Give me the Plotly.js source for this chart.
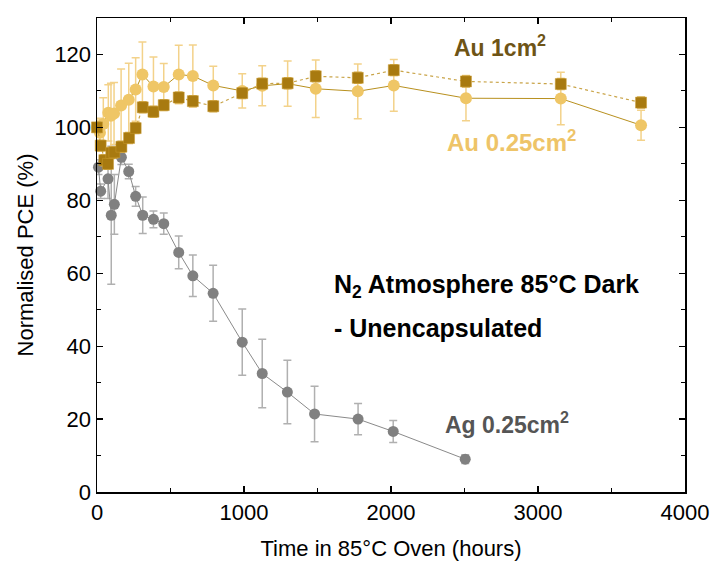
<!DOCTYPE html>
<html>
<head>
<meta charset="utf-8">
<script src="https://cdn.plot.ly/plotly-3.0.1.min.js"></script>
<style>html,body{margin:0;padding:0;background:#fff;}#chart{width:713px;height:565px;}</style>
</head>
<body>
<div id="chart"></div>
<script>
// Ag 0.25 cm2
const agTime = [10, 25, 75, 97, 118, 166, 216, 263, 311, 384, 454, 556, 652, 790, 988, 1124, 1295, 1480, 1776, 2015, 2505];
const agPCE  = [89.1, 82.5, 85.9, 75.9, 78.9, 91.8, 87.9, 81.1, 75.9, 74.8, 73.6, 65.7, 59.3, 54.5, 41.1, 32.5, 27.4, 21.4, 20.0, 16.6, 9.0];
const agErr  = [2, 2, 5.4, 18.9, 8.2, 2, 2, 2.7, 5, 2.3, 2.9, 4.5, 5.7, 7.7, 9.1, 9.4, 8.7, 7.6, 4.3, 3, 1.2];

// Au 0.25 cm2
const au25Time = [0, 20, 43, 77, 95, 116, 164, 216, 263, 309, 384, 454, 556, 652, 791, 988, 1124, 1297, 1488, 1774, 2019, 2510, 3155, 3701];
const au25PCE  = [100, 98.5, 100.9, 104.0, 103.2, 103.8, 106.0, 107.6, 110.4, 114.5, 111.2, 111.1, 114.5, 114.1, 111.5, 110.0, 111.4, 112.0, 110.6, 109.9, 111.5, 108.0, 107.9, 100.6];
const au25Err  = [2, 4, 7.2, 7.7, 8.9, 8.5, 10, 10, 8.7, 8.9, 8.1, 6.4, 8, 8.5, 5.3, 4.7, 5.5, 6.2, 7.9, 7.5, 7.1, 6.2, 7.2, 4.1];

// Au 1 cm2
const au1Time = [0, 25, 50, 75, 97, 118, 166, 218, 263, 311, 384, 454, 556, 652, 791, 988, 1124, 1297, 1488, 1774, 2019, 2510, 3155, 3701];
const au1PCE  = [100, 95, 91, 90, 93, 93.2, 94.7, 97.1, 99.8, 105.5, 104.3, 106.1, 108.2, 107.2, 105.8, 109.4, 112.0, 112.1, 114.0, 113.6, 115.7, 112.6, 111.9, 106.8];
const au1Err  = [1.5, 1.5, 1.5, 1.5, 1.5, 1.5, 1.5, 1.5, 1.5, 1.5, 1.5, 1.5, 1.5, 1.5, 1.5, 1.5, 1.5, 1.5, 1.5, 1.5, 1.5, 1.5, 1.5, 1.5];

const xTicks = [0, 1000, 2000, 3000, 4000];
const yTicks = [0, 20, 40, 60, 80, 100, 120];

const traces = [
  {
    x: agTime, y: agPCE, type: 'scatter', mode: 'lines+markers', name: 'Ag 0.25cm2',
    line: {color: '#8a8a8a', width: 1},
    marker: {symbol: 'circle', size: 11, color: '#808080'},
    error_y: {type: 'data', array: agErr, visible: true, color: '#b0b0b0', thickness: 1.5, width: 4},
    cliponaxis: false
  },
  {
    x: au25Time, y: au25PCE, type: 'scatter', mode: 'lines+markers', name: 'Au 0.25cm2',
    line: {color: '#B8901E', width: 1},
    marker: {symbol: 'circle', size: 12, color: '#EFC666'},
    error_y: {type: 'data', array: au25Err, visible: true, color: '#F3D28A', thickness: 1.5, width: 4},
    cliponaxis: false
  },
  {
    x: au1Time, y: au1PCE, type: 'scatter', mode: 'lines+markers', name: 'Au 1cm2',
    line: {color: '#C9A448', width: 1.2, dash: 'dot'},
    marker: {symbol: 'square', size: 11, color: '#A87A10', line: {color: '#C99A30', width: 0.5}},
    error_y: {type: 'data', array: au1Err, visible: true, color: '#D9B45A', thickness: 1.5, width: 4},
    cliponaxis: false
  }
];

const fam = 'Liberation Sans, Arial, sans-serif';

const layout = {
  width: 713, height: 565,
  margin: {l: 97, r: 28, t: 18, b: 73},
  paper_bgcolor: '#fff', plot_bgcolor: '#fff',
  showlegend: false,
  font: {family: fam, size: 22, color: '#000'},
  xaxis: {
    range: [0, 4000], tickvals: xTicks, ticktext: xTicks.map(String),
    ticks: 'inside', ticklen: 6, tickwidth: 1.2, tickcolor: '#000',
    minor: {dtick: 500, ticks: 'inside', ticklen: 4, tickwidth: 1, tickcolor: '#000'},
    showline: true, linecolor: '#000', linewidth: 1.5, mirror: 'ticks',
    showgrid: false, zeroline: false,
    tickfont: {family: fam, size: 22, color: '#000'},
    title: {text: 'Time in 85°C Oven (hours)', font: {family: fam, size: 22, color: '#000'}, standoff: 16}
  },
  yaxis: {
    range: [0, 130], tickvals: yTicks, ticktext: yTicks.map(String),
    ticks: 'inside', ticklen: 6, tickwidth: 1.2, tickcolor: '#000',
    minor: {dtick: 10, ticks: 'inside', ticklen: 4, tickwidth: 1, tickcolor: '#000'},
    showline: true, linecolor: '#000', linewidth: 1.5, mirror: 'ticks',
    showgrid: false, zeroline: false,
    tickfont: {family: fam, size: 22, color: '#000'},
    title: {text: 'Normalised PCE (%)', font: {family: fam, size: 22, color: '#000'}, standoff: 14}
  },
  annotations: [
    {x: 2740, y: 122.3, xref: 'x', yref: 'y', text: '<b>Au 1cm<sup>2</sup></b>', showarrow: false,
     font: {family: fam, size: 23, color: '#6E5416'}},
    {x: 2823, y: 96.3, xref: 'x', yref: 'y', text: '<b>Au 0.25cm<sup>2</sup></b>', showarrow: false,
     font: {family: fam, size: 24, color: '#EEC468'}},
    {x: 1599, y: 56.5, xref: 'x', yref: 'y', xanchor: 'left', text: '<b>N<sub>2</sub> Atmosphere 85°C Dark</b>', showarrow: false,
     font: {family: fam, size: 25, color: '#000'}},
    {x: 1599, y: 45, xref: 'x', yref: 'y', xanchor: 'left', text: '<b>- Unencapsulated</b>', showarrow: false,
     font: {family: fam, size: 25, color: '#000'}},
    {x: 2789, y: 19, xref: 'x', yref: 'y', text: '<b>Ag 0.25cm<sup>2</sup></b>', showarrow: false,
     font: {family: fam, size: 23, color: '#555555'}}
  ]
};

Plotly.newPlot('chart', traces, layout, {staticPlot: true, displayModeBar: false});
</script>
</body>
</html>
